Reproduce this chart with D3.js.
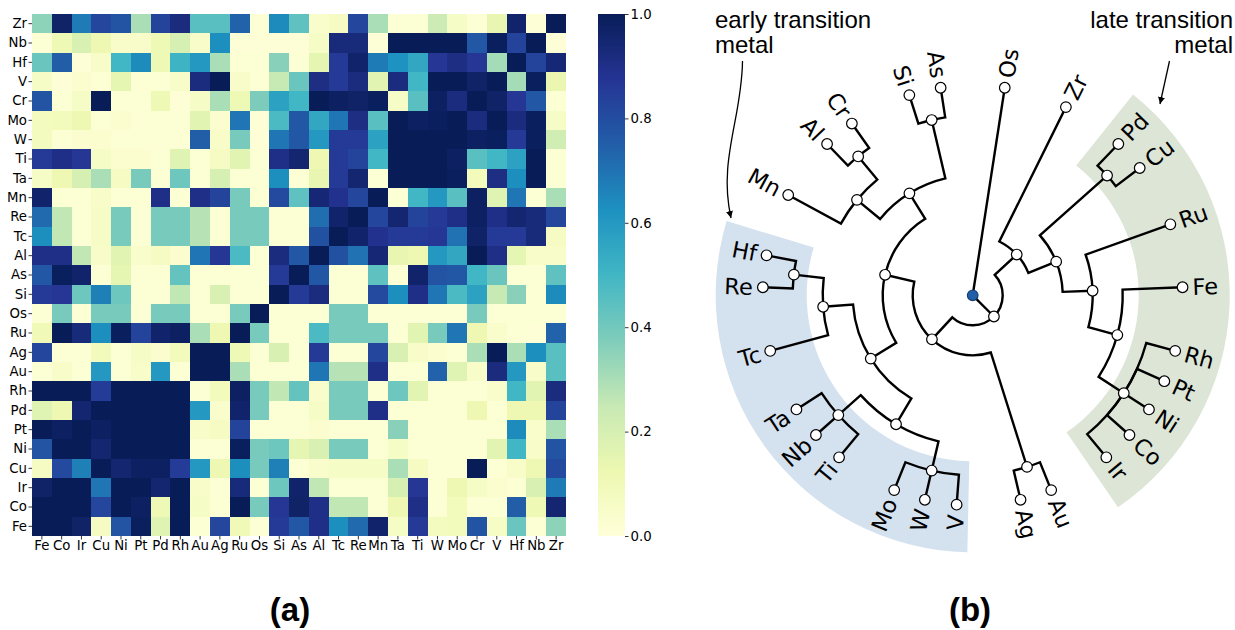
<!DOCTYPE html>
<html>
<head>
<meta charset="utf-8">
<script src="https://cdn.jsdelivr.net/npm/d3@7"></script>
<style>
  html, body { margin: 0; padding: 0; background: #fff; }
  svg { display: block; }
</style>
</head>
<body>
<svg id="fig" width="1235" height="630"></svg>
<script>
// ---------- panel (a): pairwise similarity matrix ----------
const columnLabels = ["Fe","Co","Ir","Cu","Ni","Pt","Pd","Rh","Au","Ag","Ru","Os","Si","As","Al","Tc","Re","Mn","Ta","Ti","W","Mo","Cr","V","Hf","Nb","Zr"];
const rowLabels = ["Zr","Nb","Hf","V","Cr","Mo","W","Ti","Ta","Mn","Re","Tc","Al","As","Si","Os","Ru","Ag","Au","Rh","Pd","Pt","Ni","Cu","Ir","Co","Fe"];

// one row per rowLabels entry, one value per columnLabels entry
const similarity = [
  [0.35,0.97,0.68,0.82,0.78,0.30,0.83,0.92,0.45,0.45,0.74,0.02,0.64,0.44,0.04,0.07,0.82,0.30,0.02,0.02,0.23,0.06,0.02,0.14,0.96,0.01,1.00], // Zr
  [0.02,0.11,0.19,0.12,0.05,0.05,0.11,0.20,0.05,0.63,0.01,0.01,0.01,0.01,0.06,0.93,0.93,0.01,1.00,1.00,1.00,1.00,0.77,0.99,0.83,1.00,0.01], // Nb
  [0.42,0.75,0.01,0.05,0.50,0.64,0.11,0.51,0.60,0.30,0.02,0.02,0.36,0.02,0.15,0.86,0.96,0.68,0.62,0.55,0.87,0.91,0.87,0.31,1.00,0.83,0.94], // Hf
  [0.06,0.01,0.03,0.02,0.15,0.02,0.02,0.05,0.92,1.00,0.05,0.02,0.25,0.42,0.91,0.86,0.92,0.16,0.92,0.50,1.00,1.00,0.97,1.00,0.31,0.99,0.13], // V
  [0.78,0.02,0.06,1.00,0.02,0.02,0.11,0.01,0.06,0.30,0.11,0.38,0.57,0.50,1.00,0.98,0.97,0.99,0.06,0.45,0.98,0.92,1.00,0.97,0.87,0.77,0.02], // Cr
  [0.08,0.09,0.12,0.02,0.03,0.02,0.02,0.02,0.16,0.03,0.69,0.01,0.48,0.77,0.55,0.69,0.91,0.45,1.00,0.98,0.99,1.00,0.92,1.00,0.92,0.99,0.06], // Mo
  [0.08,0.02,0.03,0.03,0.02,0.02,0.02,0.02,0.75,0.05,0.39,0.01,0.69,0.77,0.60,0.86,0.86,0.57,1.00,1.00,1.00,1.00,0.98,0.99,0.86,0.99,0.22], // W
  [0.86,0.90,0.87,0.06,0.03,0.03,0.02,0.17,0.02,0.07,0.16,0.02,0.90,0.95,0.12,0.86,0.83,0.50,1.00,1.00,1.00,0.98,0.45,0.50,0.57,1.00,0.02], // Ti
  [0.06,0.12,0.20,0.30,0.07,0.39,0.02,0.41,0.02,0.20,0.02,0.02,0.63,0.02,0.14,0.86,0.95,0.02,1.00,1.00,1.00,0.99,0.09,0.91,0.63,1.00,0.02], // Ta
  [0.96,0.02,0.02,0.05,0.02,0.02,0.90,0.02,0.90,0.83,0.39,0.02,0.81,0.44,0.94,0.89,0.82,1.00,0.02,0.50,0.60,0.45,0.98,0.17,0.69,0.02,0.30], // Mn
  [0.72,0.26,0.02,0.06,0.39,0.02,0.39,0.39,0.28,0.02,0.39,0.39,0.02,0.02,0.71,0.96,1.00,0.82,0.95,0.83,0.86,0.90,0.98,0.90,0.95,0.93,0.82], // Re
  [0.63,0.26,0.02,0.06,0.39,0.02,0.39,0.39,0.28,0.02,0.39,0.39,0.02,0.02,0.79,1.00,0.96,0.89,0.86,0.86,0.87,0.70,0.97,0.86,0.86,0.93,0.07], // Tc
  [0.90,0.90,0.26,0.05,0.16,0.04,0.07,0.03,0.69,0.87,0.48,0.02,0.92,0.77,1.00,0.79,0.70,0.94,0.14,0.12,0.60,0.55,1.00,0.90,0.15,0.05,0.05], // Al
  [0.77,0.99,0.96,0.02,0.15,0.02,0.02,0.43,0.02,0.02,0.02,0.02,0.86,1.00,0.77,0.02,0.02,0.44,0.02,0.96,0.78,0.77,0.50,0.42,0.02,0.02,0.44], // As
  [0.86,0.87,0.41,0.67,0.41,0.02,0.02,0.26,0.02,0.19,0.02,0.02,1.00,0.86,0.92,0.02,0.02,0.81,0.63,0.90,0.69,0.48,0.57,0.25,0.36,0.02,0.64], // Si
  [0.02,0.39,0.02,0.39,0.39,0.02,0.39,0.39,0.02,0.02,0.39,1.00,0.02,0.02,0.02,0.39,0.39,0.02,0.02,0.02,0.02,0.02,0.39,0.02,0.02,0.02,0.02], // Os
  [0.10,1.00,0.93,0.63,0.99,0.83,0.96,0.98,0.30,0.12,1.00,0.39,0.02,0.02,0.48,0.39,0.39,0.39,0.02,0.16,0.39,0.69,0.12,0.04,0.02,0.01,0.74], // Ru
  [0.82,0.02,0.02,0.09,0.02,0.06,0.03,0.09,1.00,1.00,0.11,0.02,0.19,0.02,0.86,0.02,0.02,0.82,0.19,0.05,0.03,0.02,0.30,1.00,0.30,0.63,0.45], // Ag
  [0.02,0.05,0.02,0.60,0.02,0.05,0.60,0.02,1.00,1.00,0.30,0.02,0.02,0.02,0.69,0.28,0.28,0.90,0.02,0.02,0.74,0.17,0.05,0.92,0.60,0.05,0.45], // Au
  [1.00,1.00,1.00,0.85,1.00,1.00,1.00,1.00,0.02,0.09,0.98,0.39,0.26,0.43,0.04,0.39,0.39,0.02,0.41,0.16,0.02,0.02,0.02,0.04,0.50,0.16,0.92], // Rh
  [0.17,0.12,0.95,1.00,1.00,1.00,1.00,1.00,0.60,0.04,0.96,0.39,0.02,0.02,0.06,0.39,0.39,0.90,0.02,0.02,0.02,0.02,0.12,0.02,0.12,0.12,0.83], // Pd
  [1.00,0.98,1.00,0.98,1.00,1.00,1.00,1.00,0.05,0.07,0.83,0.02,0.02,0.02,0.03,0.02,0.02,0.02,0.36,0.02,0.02,0.02,0.02,0.02,0.64,0.04,0.30], // Pt
  [0.78,1.00,1.00,0.95,1.00,1.00,1.00,1.00,0.02,0.02,0.99,0.39,0.41,0.15,0.19,0.39,0.39,0.02,0.06,0.02,0.02,0.02,0.02,0.16,0.50,0.05,0.78], // Ni
  [0.07,0.81,0.67,1.00,0.95,0.98,0.98,0.85,0.60,0.12,0.63,0.39,0.67,0.02,0.04,0.06,0.06,0.06,0.30,0.07,0.02,0.02,1.00,0.02,0.05,0.12,0.81], // Cu
  [0.97,1.00,1.00,0.69,1.00,1.00,0.95,1.00,0.05,0.02,0.93,0.02,0.41,0.96,0.26,0.02,0.02,0.02,0.20,0.87,0.02,0.12,0.06,0.03,0.02,0.19,0.68], // Ir
  [1.00,1.00,1.00,0.82,1.00,0.98,0.11,1.00,0.06,0.02,1.00,0.39,0.87,0.97,0.90,0.26,0.26,0.02,0.12,0.90,0.02,0.09,0.02,0.02,0.75,0.11,0.95], // Co
  [1.00,1.00,0.97,0.07,0.78,0.99,0.17,1.00,0.02,0.82,0.10,0.02,0.86,0.77,0.90,0.63,0.72,0.96,0.06,0.86,0.08,0.09,0.78,0.06,0.42,0.02,0.35]  // Fe
];

const colorbarTicks = [0, 0.2, 0.4, 0.6, 0.8, 1.0];
// YlGnBu anchor colours, evenly spaced over [0, 1]
const ylgnbu = ["#ffffd9","#edf8b1","#c7e9b4","#7fcdbb","#41b6c4","#1d91c0","#225ea8","#253494","#081d58"];

// ---------- panel (b): hierarchical clustering of the elements ----------
// nested arrays: an array is a merge, a string is an element
const dendrogram = [
  "Os",
  [
    ["Zr", [["Pd","Cu"], ["Ru", ["Fe", ["Rh","Pt","Ni","Co","Ir"]]]]],
    [["Au","Ag"],
      [
        [[["V","W","Mo"], ["Ti","Nb","Ta"]], ["Tc", ["Re","Hf"]]],
        [["Mn", ["Al","Cr"]], ["Si","As"]]
      ]
    ]
  ]
];
const groups = [
  { lines: ["early transition", "metal"], first: "V",  last: "Hf", fill: "#d4e1ee" },
  { lines: ["late transition", "metal"],  first: "Pd", last: "Ir", fill: "#dce5d6" }
];

// ---------------------------------------------------------------------
const svg = d3.select("#fig");

// ---- heatmap ----
const hm = { left: 32, right: 566, top: 14, bottom: 536 };
const x = d3.scaleBand().domain(columnLabels).range([hm.left, hm.right]);
const y = d3.scaleBand().domain(rowLabels).range([hm.top, hm.bottom]);
const color = d3.scaleLinear()
  .domain(ylgnbu.map((_, i) => i / (ylgnbu.length - 1)))
  .range(ylgnbu)
  .interpolate(d3.interpolateRgb)
  .clamp(true);

const cells = [];
rowLabels.forEach((r, i) => columnLabels.forEach((c, j) => cells.push({ r, c, v: similarity[i][j] })));

svg.append("g")
  .attr("shape-rendering", "crispEdges")
  .selectAll("rect")
  .data(cells)
  .join("rect")
  .attr("x", d => x(d.c))
  .attr("y", d => y(d.r))
  .attr("width", x.bandwidth() + 0.4)
  .attr("height", y.bandwidth() + 0.4)
  .attr("fill", d => color(d.v));

const tickFont = "DejaVu Sans, sans-serif";
function styleAxis(g) {
  g.select(".domain").remove();
  g.selectAll(".tick line").attr("stroke", "#000").attr("stroke-width", 0.8);
  g.selectAll(".tick text").attr("fill", "#000").style("font-family", tickFont).style("font-size", "13.3px");
}

svg.append("g")
  .attr("transform", `translate(${hm.left},0)`)
  .call(d3.axisLeft(y).tickSize(3.5).tickPadding(1.5))
  .call(styleAxis);

svg.append("g")
  .attr("transform", `translate(0,${hm.bottom})`)
  .call(d3.axisBottom(x).tickSize(3.5).tickPadding(1.5))
  .call(styleAxis);

// ---- colour bar ----
const cb = { left: 598, width: 27 };
const cbScale = d3.scaleLinear().domain([0, 1]).range([hm.bottom, hm.top]);
const grad = svg.append("defs").append("linearGradient")
  .attr("id", "cbgrad").attr("x1", 0).attr("y1", 1).attr("x2", 0).attr("y2", 0);
grad.selectAll("stop").data(color.domain()).join("stop")
  .attr("offset", d => d)
  .attr("stop-color", d => color(d));
svg.append("rect")
  .attr("x", cb.left).attr("y", hm.top)
  .attr("width", cb.width).attr("height", hm.bottom - hm.top)
  .attr("fill", "url(#cbgrad)");
svg.append("g")
  .attr("transform", `translate(${cb.left + cb.width},0)`)
  .call(d3.axisRight(cbScale).tickValues(colorbarTicks).tickFormat(d3.format(".1f")).tickSize(3.5).tickPadding(2))
  .call(styleAxis);

// ---- radial dendrogram ----
const center = { x: 972.7, y: 295.3 };
const leafRadius = 210;
const root = d3.hierarchy(dendrogram, d => Array.isArray(d) ? d : null);
d3.cluster().size([360, leafRadius])(root);

const tree = svg.append("g").attr("transform", `translate(${center.x},${center.y})`);

const leafAngle = name => root.leaves().find(l => l.data === name).x;
const rad = deg => deg * Math.PI / 180;

// shaded bands behind the two families
const bandArc = d3.arc().innerRadius(166).outerRadius(257);
const bandPad = [[3.2, 5.8], [5.3, 5.1]];
groups.forEach((g, i) => {
  tree.append("path")
    .attr("d", bandArc({
      startAngle: rad(leafAngle(g.first) - bandPad[i][0]),
      endAngle: rad(leafAngle(g.last) + bandPad[i][1])
    }))
    .attr("fill", g.fill);
});

function linkStep(a0, r0, a1, r1) {
  const t0 = rad(a0 - 90), t1 = rad(a1 - 90);
  const c0 = Math.cos(t0), s0 = Math.sin(t0), c1 = Math.cos(t1), s1 = Math.sin(t1);
  return "M" + r0 * c0 + "," + r0 * s0 +
    (a1 === a0 ? "" : "A" + r0 + "," + r0 + " 0 0 " + (a1 > a0 ? 1 : 0) + " " + r0 * c1 + "," + r0 * s1) +
    "L" + r1 * c1 + "," + r1 * s1;
}

tree.append("g")
  .attr("fill", "none")
  .attr("stroke", "#000")
  .attr("stroke-width", 2.4)
  .selectAll("path")
  .data(root.links())
  .join("path")
  .attr("d", d => linkStep(d.source.x, d.source.y, d.target.x, d.target.y));

const polar = d => [d.y * Math.sin(rad(d.x)), -d.y * Math.cos(rad(d.x))];

tree.append("g")
  .selectAll("circle")
  .data(root.descendants())
  .join("circle")
  .attr("cx", d => polar(d)[0])
  .attr("cy", d => polar(d)[1])
  .attr("r", 5.3)
  .attr("fill", d => d.depth === 0 ? "#2160a8" : "#fff")
  .attr("stroke", d => d.depth === 0 ? "#173f73" : "#000")
  .attr("stroke-width", 1.2);

tree.append("g")
  .selectAll("text")
  .data(root.leaves())
  .join("text")
  .attr("transform", d => `rotate(${d.x - 90}) translate(${d.y},0) rotate(${d.x < 180 ? 0 : 180})`)
  .attr("x", d => d.x < 180 ? 10 : -10)
  .attr("dy", "0.36em")
  .attr("text-anchor", d => d.x < 180 ? "start" : "end")
  .style("font-family", "DejaVu Sans, sans-serif")
  .style("font-size", "22.5px")
  .attr("fill", "#000")
  .text(d => d.data);

// ---- family annotations with arrows ----
const defs = svg.select("defs");
defs.append("marker")
  .attr("id", "arrow")
  .attr("viewBox", "0 0 10 10")
  .attr("refX", 10).attr("refY", 5)
  .attr("markerWidth", 7).attr("markerHeight", 7)
  .attr("markerUnits", "userSpaceOnUse")
  .attr("orient", "auto")
  .append("path").attr("d", "M0,0 L10,5 L0,10 z").attr("fill", "#000");

const noteFont = "Liberation Sans, Arial, sans-serif";
const notes = [
  { group: groups[0], x: 715, anchor: "start", arrow: "M742.5,61 C742,118 718,160 731,218" },
  { group: groups[1], x: 1233, anchor: "end", arrow: "M1169.5,61 L1160,104" }
];
notes.forEach(n => {
  const t = svg.append("text")
    .attr("text-anchor", n.anchor)
    .style("font-family", noteFont)
    .style("font-size", "24px")
    .attr("fill", "#000");
  n.group.lines.forEach((line, i) => {
    t.append("tspan").attr("x", n.x).attr("y", 28 + i * 24.5).text(line);
  });
  svg.append("path")
    .attr("d", n.arrow)
    .attr("fill", "none")
    .attr("stroke", "#000")
    .attr("stroke-width", 1.3)
    .attr("marker-end", "url(#arrow)");
});

// ---- panel letters ----
[["(a)", 290], ["(b)", 970]].forEach(([label, cx]) => {
  svg.append("text")
    .attr("x", cx).attr("y", 621)
    .attr("text-anchor", "middle")
    .style("font-family", noteFont)
    .style("font-weight", "bold")
    .style("font-size", "33px")
    .attr("fill", "#000")
    .text(label);
});
</script>
</body>
</html>
